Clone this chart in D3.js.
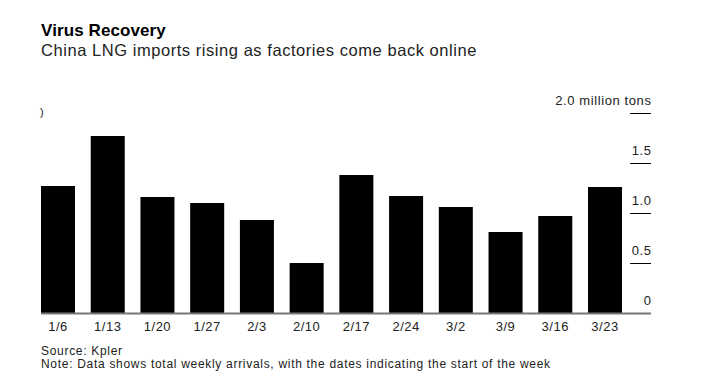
<!DOCTYPE html>
<html>
<head>
<meta charset="utf-8">
<script src="https://cdn.jsdelivr.net/npm/d3@7"></script>
<style>
  body { margin: 0; background: #fff; }
  svg { display: block; font-family: "Liberation Sans", Arial, sans-serif; }
</style>
</head>
<body>
<svg id="chart" width="707" height="389"></svg>
<script>
const categories = ["1/6","1/13","1/20","1/27","2/3","2/10","2/17","2/24","3/2","3/9","3/16","3/23"];
const values = [1.27, 1.77, 1.16, 1.10, 0.93, 0.50, 1.38, 1.17, 1.06, 0.81, 0.97, 1.26];
const yTicks = [0, 0.5, 1.0, 1.5, 2.0];
const yTickLabels = ["0", "0.5", "1.0", "1.5", "2.0 million tons"];

const svg = d3.select("#chart");
const W = 707, H = 389;
svg.append("rect").attr("width", W).attr("height", H).attr("fill", "#fff");

const x = d3.scaleBand().domain(categories).range([41, 622]).paddingInner(0.316).paddingOuter(0);
const y = d3.scaleLinear().domain([0, 2]).range([313, 113]);

// title
svg.append("text").attr("x", 41).attr("y", 36)
  .attr("font-size", 17).attr("font-weight", "bold").attr("fill", "#000")
  .attr("letter-spacing", 0.1)
  .text("Virus Recovery");
svg.append("text").attr("x", 41).attr("y", 56)
  .attr("font-size", 16.5).attr("fill", "#222")
  .attr("letter-spacing", 0.55)
  .text("China LNG imports rising as factories come back online");

// stray glyph fragment at top-left
svg.append("text").attr("x", 40).attr("y", 116)
  .attr("font-size", 11).attr("fill", "#222").text(")");

// bars
svg.append("g").selectAll("rect").data(categories).join("rect")
  .attr("x", d => x(d))
  .attr("width", x.bandwidth())
  .attr("y", (d, i) => y(values[i]))
  .attr("height", (d, i) => y(0) - y(values[i]))
  .attr("fill", "#000");

// y axis (right side, short tick lines with labels above)
const yAxis = d3.axisRight(y).tickValues(yTicks)
  .tickFormat((d, i) => yTickLabels[i]).tickSize(0);
const gy = svg.append("g").attr("transform", "translate(651,0)").call(yAxis);
gy.select(".domain").remove();
gy.selectAll(".tick line").filter(d => d !== 0)
  .attr("x1", -21).attr("x2", 0).attr("stroke", "#000").attr("stroke-width", 1);
gy.selectAll(".tick text")
  .attr("x", 0.5).attr("dy", -8.5).attr("text-anchor", "end")
  .attr("font-size", 13).attr("fill", "#222").attr("letter-spacing", 0.6)
  .attr("font-family", "Liberation Sans, Arial, sans-serif");

// baseline
svg.append("line").attr("x1", 41).attr("x2", 651)
  .attr("y1", y(0) + 0.5).attr("y2", y(0) + 0.5)
  .attr("stroke", "#777").attr("stroke-width", 2);

// x axis labels
const xAxis = d3.axisBottom(x).tickSize(0).tickPadding(0);
const gx = svg.append("g").attr("transform", `translate(0,${y(0)})`).call(xAxis);
gx.select(".domain").remove();
gx.selectAll(".tick text")
  .attr("y", 18).attr("dy", 0)
  .attr("font-size", 13).attr("fill", "#222").attr("letter-spacing", 0.5)
  .attr("font-family", "Liberation Sans, Arial, sans-serif");

// footer
svg.append("text").attr("x", 41).attr("y", 354.5)
  .attr("font-size", 12).attr("fill", "#222").attr("letter-spacing", 0.7)
  .text("Source: Kpler");
svg.append("text").attr("x", 41).attr("y", 368)
  .attr("font-size", 12).attr("fill", "#222").attr("letter-spacing", 0.7)
  .text("Note: Data shows total weekly arrivals, with the dates indicating the start of the week");
</script>
</body>
</html>
